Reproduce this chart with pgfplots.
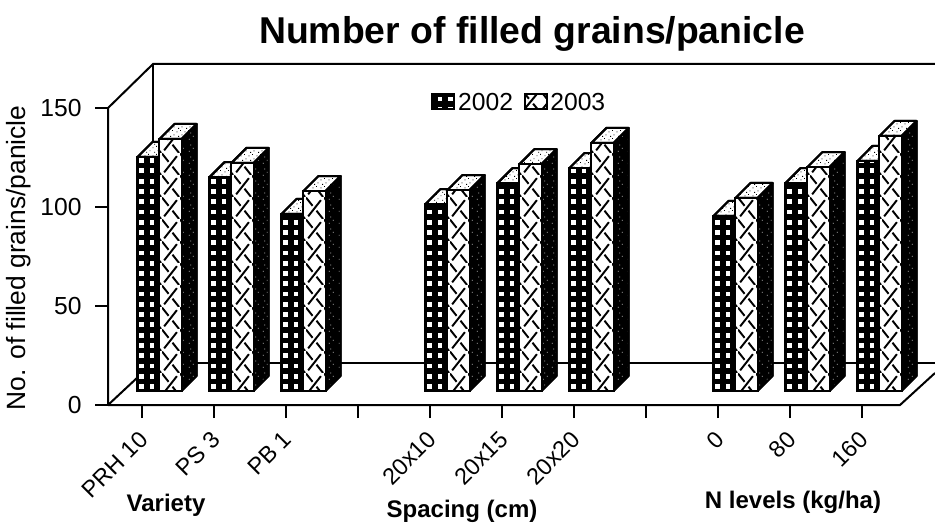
\documentclass[border=0pt]{standalone}
\usepackage{fontspec}
\setmainfont{Liberation Sans}
\usepackage{pgfplots}
\usepackage{pgfplotstable}
\pgfplotsset{compat=1.18}
\usetikzlibrary{patterns}
% 1 reference pixel = 0.75pt
\pgfdeclarepatternformonly{holes}{\pgfqpoint{-0.5pt}{-0.5pt}}{\pgfqpoint{8.5pt}{8.5pt}}{\pgfqpoint{7.714pt}{7.7pt}}{
  \pgfpathrectangle{\pgfqpoint{4.3pt}{2pt}}{\pgfqpoint{3.4pt}{3.6pt}}\pgfusepath{fill}}
\pgfdeclarepatternformonly{crosses}{\pgfqpoint{0pt}{0pt}}{\pgfqpoint{13.5pt}{16.3pt}}{\pgfqpoint{13.5pt}{16.3pt}}{
  \pgfsetlinewidth{1.5pt}\pgfsetbuttcap
  \pgfpathmoveto{\pgfqpoint{1.7pt}{2pt}}\pgfpathlineto{\pgfqpoint{11.8pt}{14.3pt}}
  \pgfpathmoveto{\pgfqpoint{0pt}{16.3pt}}\pgfpathlineto{\pgfqpoint{5.2pt}{10pt}}
  \pgfpathmoveto{\pgfqpoint{8.3pt}{6.3pt}}\pgfpathlineto{\pgfqpoint{13.5pt}{0pt}}
  \pgfusepath{stroke}}
\pgfdeclarepatternformonly{stipple}{\pgfqpoint{0pt}{0pt}}{\pgfqpoint{6pt}{6pt}}{\pgfqpoint{6pt}{6pt}}{
  \pgfpathrectangle{\pgfqpoint{0.5pt}{0.6pt}}{\pgfqpoint{.7pt}{.7pt}}
  \pgfpathrectangle{\pgfqpoint{3.4pt}{1.7pt}}{\pgfqpoint{.7pt}{.7pt}}
  \pgfpathrectangle{\pgfqpoint{1.8pt}{3.4pt}}{\pgfqpoint{.7pt}{.7pt}}
  \pgfpathrectangle{\pgfqpoint{4.6pt}{4.6pt}}{\pgfqpoint{.7pt}{.7pt}}
  \pgfusepath{fill}}
\pgfdeclarepatternformonly{sparse}{\pgfqpoint{0pt}{0pt}}{\pgfqpoint{7pt}{9pt}}{\pgfqpoint{7pt}{9pt}}{
  \pgfpathrectangle{\pgfqpoint{1.5pt}{1.2pt}}{\pgfqpoint{.6pt}{.6pt}}
  \pgfpathrectangle{\pgfqpoint{4.6pt}{3.5pt}}{\pgfqpoint{.6pt}{.6pt}}
  \pgfpathrectangle{\pgfqpoint{2.6pt}{6.2pt}}{\pgfqpoint{.6pt}{.6pt}}
  \pgfusepath{fill}}
\tikzset{
  faceside/.style={draw=black,line width=1.5pt,line join=round,fill=black,postaction={pattern=sparse,pattern color=white}},
  facetop/.style={draw=black,line width=1.5pt,line join=round,fill=white,postaction={pattern=stipple,pattern color=black}},
}
\pgfplotstableread{
idx y2002 y2003 pos
0 118.2 127.3 0
1 108.0 115.2 1
2 89.4 101.0 2
3 94.4 101.5 4
4 105.0 114.6 5
5 112.6 125.3 6
6 88.4 97.5 8
7 105.0 113.1 9
8 116.2 128.8 10
}\grains
\newcommand\depthfaces[2]{%
  \pgfmathsetmacro\xa{#1+0.306}\pgfmathsetmacro\xb{\xa+0.2083}%
  \pgfmathsetmacro\xc{#1+0.2083}\pgfmathsetmacro\yt{#2+7.58}%
  \addplot[forget plot,faceside] coordinates {(\xa,0)(\xb,7.58)(\xb,\yt)(\xa,#2)} --cycle;
  \addplot[forget plot,facetop] coordinates {(#1,#2)(\xc,\yt)(\xb,\yt)(\xa,#2)} --cycle;
}
\begin{document}
\begin{tikzpicture}[x=0.75pt,y=0.75pt]
\path[use as bounding box] (0,0) rectangle (935,525);
\begin{axis}[
  at={(81pt,90pt)},anchor=south west,scale only axis,
  width=620.25pt,height=255.75pt,
  xmin=-0.4722,xmax=11.014,ymin=-7.07,ymax=165.15,
  axis lines=left,axis line style={-,draw=none},
  clip=false,no marks,
  xtick={0,...,10},
  xticklabels={PRH 10,PS 3,PB 1,,20x10,20x15,20x20,,0,80,160},
  ytick={-7.07,42.93,92.93,142.93},
  yticklabels={0,50,100,150},
  tick align=outside,major tick length=9.75pt,
  tick style={black,line width=1.2pt},
  /pgf/number format/assume math mode=true,
  yticklabel style={font=\fontsize{18.5}{20}\selectfont,xshift=-6.5pt},
  xticklabel style={font=\fontsize{17.5}{20}\selectfont,rotate=45,anchor=north east,xshift=-5pt,yshift=-0.5pt},
  legend style={at={(0.3908,0.922)},anchor=north west,draw=none,fill=none,
    legend columns=2,font=\fontsize{18.5}{21}\selectfont,
    /tikz/every even column/.append style={column sep=6pt},inner sep=0pt},
  legend image code/.code={\draw[#1] (0pt,-4.5pt) rectangle (16.5pt,6.5pt);},
]
% walls and floor
\addplot[forget plot,black,line width=1.5pt] coordinates {(-0.472,-7.07)(-0.472,142.93)(0.153,165.15)(11.014,165.15)};
\addplot[forget plot,black,line width=1.5pt] coordinates {(0.153,165.15)(0.153,14.14)(11.014,14.14)};
\addplot[forget plot,black,line width=1.5pt] coordinates {(-0.472,-7.07)(0.153,14.14)};
\addplot[forget plot,black,line width=1.5pt] coordinates {(-0.472,-7.07)(10.528,-7.07)(11.014,9.09)};
% 2002 depth faces
\pgfplotsinvokeforeach{0,...,8}{%
  \pgfplotstablegetelem{#1}{pos}\of\grains\let\p\pgfplotsretval
  \pgfplotstablegetelem{#1}{y2002}\of\grains\let\h\pgfplotsretval
  \pgfmathsetmacro\l{\p-0.0625}%
  \depthfaces{\l}{\h}
}
\addplot[ybar,bar width=0.306,bar shift=0.09,draw=black,line width=1.5pt,fill=black,
  postaction={pattern=holes,pattern color=white}] table[x=pos,y=y2002]{\grains};
\addlegendentry{2002}
% 2003 depth faces
\pgfplotsinvokeforeach{0,...,8}{%
  \pgfplotstablegetelem{#1}{pos}\of\grains\let\p\pgfplotsretval
  \pgfplotstablegetelem{#1}{y2003}\of\grains\let\h\pgfplotsretval
  \pgfmathsetmacro\l{\p+0.2431}%
  \depthfaces{\l}{\h}
}
\addplot[ybar,bar width=0.306,bar shift=0.396,draw=black,line width=1.5pt,fill=white,
  postaction={pattern=crosses,pattern color=black}] table[x=pos,y=y2003]{\grains};
\addlegendentry{2003}
\end{axis}
\node[font=\bfseries\fontsize{28}{32}\selectfont] at (532,491) {Number of filled grains/panicle};
\node[font=\fontsize{19.8}{22}\selectfont,rotate=90] at (19,267) {No. of filled grains/panicle};
\node[font=\bfseries\fontsize{18}{21}\selectfont] at (166,20) {Variety};
\node[font=\bfseries\fontsize{18}{21}\selectfont] at (462,14) {Spacing (cm)};
\node[font=\bfseries\fontsize{18}{21}\selectfont] at (793,23) {N levels (kg/ha)};
\end{tikzpicture}
\end{document}
